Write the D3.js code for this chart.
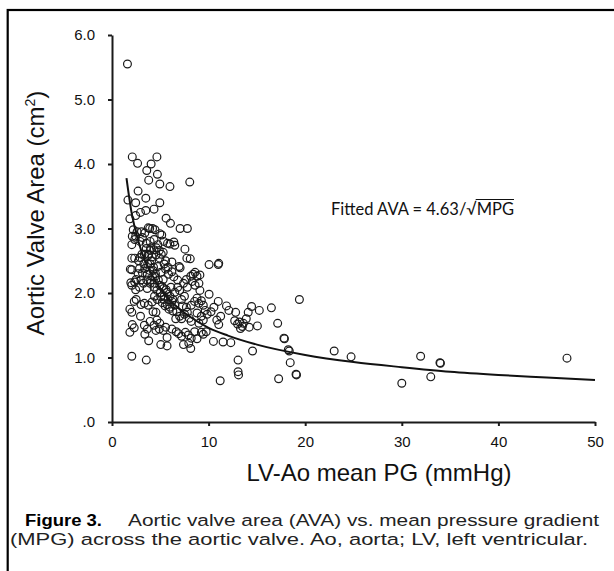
<!DOCTYPE html>
<html>
<head>
<meta charset="utf-8">
<script src="https://cdn.jsdelivr.net/npm/d3@7"></script>
<style>
  html, body { margin: 0; padding: 0; background: #fff; }
  svg { display: block; }
  .axis path, .axis line { stroke: #1a1a1a; stroke-width: 2; }
  .axis text { font-family: "Liberation Sans", Arial, sans-serif; font-size: 15px; fill: #111; }
</style>
</head>
<body>
<svg id="chart"></svg>
<script>
// Tick values and labels.
const xTicks = [0, 10, 20, 30, 40, 50];
const yTicks = [0, 1, 2, 3, 4, 5, 6];
const yTickLabels = ['.0', '1.0', '2.0', '3.0', '4.0', '5.0', '6.0'];

// Patients: mean pressure gradient (mmHg) and aortic valve area (cm2).
const mpg = [
    1.6, 2.1, 2.65, 3.6, 4.05, 4.65, 4.7, 3.8, 4.95, 6.0, 8.05,
    2.7, 1.65, 2.45, 3.5, 4.95, 2.95, 2.45, 1.85, 4.35, 3.5, 5.6, 6.05, 7.05, 7.8,
    2.2, 3.05, 3.9, 4.45, 5.15, 2.1, 2.6, 3.4, 3.75, 4.2, 4.95, 2.45, 3.15, 2.05, 2.35, 2.9,
    3.55, 3.95, 4.35, 4.75, 5.35, 5.75, 6.0, 6.4, 3.55, 3.95, 4.35, 4.9, 5.3, 3.35, 3.75,
    4.15, 4.55, 4.95, 2.35, 2.75, 5.55, 6.2, 7.05, 8.1, 7.55, 7.75, 6.5, 6.95, 2.05,
    10.05, 11.0, 11.05, 9.1,
    1.9, 2.05, 1.95, 2.35, 2.5, 2.85, 3.15, 3.4, 3.65, 3.95, 4.25, 4.45, 4.75, 5.05, 5.3,
    5.55, 5.85, 6.2, 2.05, 2.45, 2.85, 3.25, 3.65, 3.95, 4.35, 4.65, 4.95, 5.35, 5.7, 6.1,
    6.5, 6.8, 7.0, 7.4, 7.7, 8.15, 8.4, 8.6, 8.8, 7.8, 8.3, 8.6, 9.0, 9.1, 10.05,
    2.3, 2.5, 3.0, 3.35, 3.75, 4.15, 4.25, 4.55, 4.65, 4.95, 5.05, 5.35, 5.7, 6.0, 6.2,
    6.5, 6.7, 7.0, 7.2, 7.5, 7.8, 8.0, 8.2, 7.7, 8.2, 8.55, 8.8, 9.0, 9.25, 9.45, 9.65,
    8.8, 9.25, 9.0, 9.45, 9.85, 10.25, 10.55, 10.85, 11.05, 11.25, 11.0, 11.85, 12.1, 12.8,
    14.45, 14.1, 15.25, 16.5, 19.4, 17.15, 15.05, 14.2, 13.0, 13.3, 13.6, 13.9, 13.2, 12.7, 13.5,
    2.95, 3.35, 3.65, 3.95, 4.35, 4.55, 4.9, 5.3, 5.55, 6.2, 6.65, 6.9, 7.2, 7.6, 7.9, 8.2,
    8.55, 8.8, 9.25, 9.45, 9.75,
    1.85, 2.1, 2.3, 1.85, 2.05, 3.4, 3.8, 5.05, 5.7, 5.7, 7.4, 8.15, 7.95, 2.05, 3.55,
    10.5, 11.5, 12.3,
    17.8, 17.85, 18.25, 18.35, 18.45, 19.05, 19.1, 17.25, 13.05, 13.05, 13.1, 11.2, 14.55,
    23.0, 24.75, 31.95, 30.0, 33.0, 33.95, 34.0, 47.1,
    3.7, 3.9, 4.1, 4.3, 4.5, 4.0, 4.2, 4.4, 4.8, 5.0, 5.2, 5.4, 5.6, 5.8, 6.0, 6.3, 5.2, 5.5,
    5.9, 6.3, 3.8, 4.0, 4.6, 5.1, 5.4, 5.8, 6.4, 6.8, 7.2, 7.5, 3.6, 3.3, 3.1, 2.9, 2.7, 3.0,
    4.7, 4.4, 6.6, 7.3
];
const ava = [
    5.55, 4.11, 4.01, 3.9, 4.0, 4.11, 3.84, 3.75, 3.69, 3.65, 3.72,
    3.58, 3.44, 3.4, 3.47, 3.4, 3.25, 3.2, 3.15, 3.3, 3.28, 3.16, 3.08, 3.0, 3.0,
    2.98, 2.95, 3.0, 2.98, 2.9, 2.88, 2.95, 2.93, 3.01, 3.0, 2.92, 2.88, 2.86, 2.75, 2.83, 2.8,
    2.77, 2.8, 2.83, 2.75, 2.8, 2.77, 2.76, 2.79, 2.69, 2.66, 2.67, 2.66, 2.63, 2.6, 2.58,
    2.56, 2.59, 2.54, 2.54, 2.5, 2.5, 2.48, 2.39, 2.53, 2.68, 2.54, 2.74, 2.41, 2.54,
    2.44, 2.44, 2.46, 2.28,
    2.37, 2.36, 2.16, 2.17, 2.21, 2.38, 2.31, 2.38, 2.29, 2.45, 2.35, 2.26, 2.41, 2.32, 2.21,
    2.37, 2.29, 2.33, 2.12, 2.05, 2.09, 2.15, 2.07, 2.15, 2.09, 2.04, 2.12, 2.07, 2.01, 2.09,
    2.01, 2.09, 2.04, 2.15, 2.21, 2.26, 2.29, 2.32, 2.26, 2.09, 2.18, 2.12, 2.15, 2.04, 1.98,
    1.87, 1.9, 1.82, 1.84, 1.81, 1.86, 1.71, 1.7, 1.58, 1.53, 1.94, 1.9, 1.82, 1.78, 1.87,
    1.81, 1.71, 1.64, 1.6, 1.67, 1.7, 1.61, 1.56, 1.78, 1.81, 1.87, 1.92, 1.84, 1.88, 1.81, 1.73,
    1.69, 1.64, 1.53, 1.58, 1.67, 1.71, 1.78, 1.58, 1.51, 1.64, 1.87, 1.8, 1.73, 1.7,
    1.79, 1.7, 1.73, 1.77, 1.9, 1.53, 1.49, 1.47, 1.52, 1.45, 1.53, 1.6, 1.55, 1.57, 1.48,
    1.64, 1.5, 1.44, 1.56, 1.5, 1.42, 1.44, 1.42, 1.47, 1.44, 1.4, 1.37, 1.33, 1.39, 1.35, 1.3,
    1.4, 1.29, 1.39, 1.36, 1.4,
    1.39, 1.51, 1.46, 1.75, 1.7, 1.36, 1.26, 1.2, 1.18, 1.31, 1.2, 1.14, 1.22, 1.02, 0.96,
    1.25, 1.24, 1.23,
    1.3, 1.29, 1.12, 1.1, 0.92, 0.74, 0.73, 0.67, 0.96, 0.78, 0.73, 0.64, 1.1,
    1.1, 1.01, 1.02, 0.6, 0.7, 0.92, 0.91, 0.99,
    2.45, 2.35, 2.5, 2.4, 2.3, 2.2, 2.25, 2.15, 2.2, 2.0, 2.1, 1.95, 2.05, 1.9, 1.95, 1.9, 1.85, 1.8,
    1.75, 1.72, 2.6, 2.7, 2.7, 2.6, 2.45, 2.4, 2.25, 2.2, 1.9, 1.95, 2.2, 2.45, 2.6, 2.55, 2.3, 2.2,
    1.9, 1.95, 1.6, 1.8
];

// Fitted curve AVA = 4.63 / sqrt(MPG).
const fitMpg = [1.5, 2, 2.5, 3, 3.5, 4, 5, 6, 7, 8, 10, 12, 15, 20, 25, 30, 35, 40, 45, 50];
const fitAva = [3.78, 3.27, 2.93, 2.67, 2.47, 2.32, 2.07, 1.89, 1.75, 1.64, 1.46, 1.34, 1.2, 1.04, 0.93, 0.85, 0.78, 0.73, 0.69, 0.65];

const width = 614;
const height = 571;
const marginLeft = 112, marginRight = 19, marginTop = 35, marginBottom = 149;
const sans = '"Liberation Sans", Arial, sans-serif';

const svg = d3.select('#chart').attr('width', width).attr('height', height);

// Outer frame (only left and top edges fall inside the picture).
svg.append('rect')
    .attr('x', 7.7).attr('y', 10)
    .attr('width', 700).attr('height', 700)
    .attr('fill', 'none').attr('stroke', '#000').attr('stroke-width', 2.2);

const x = d3.scaleLinear().domain([0, 50]).range([marginLeft, width - marginRight]);
const y = d3.scaleLinear().domain([0, 6]).range([height - marginBottom, marginTop]);

// Y axis.
svg.append('g')
    .attr('class', 'axis')
    .attr('transform', `translate(${marginLeft},0)`)
    .call(d3.axisLeft(y).tickValues(yTicks).tickFormat((d, i) => yTickLabels[i]).tickSize(4).tickSizeOuter(0).tickPadding(13));

// X axis.
svg.append('g')
    .attr('class', 'axis')
    .attr('transform', `translate(0,${height - marginBottom})`)
    .call(d3.axisBottom(x).tickValues(xTicks).tickFormat(d3.format('d')).tickSize(4).tickSizeOuter(0).tickPadding(10));

// Axis titles.
svg.append('text')
    .attr('x', 379).attr('y', 481)
    .attr('text-anchor', 'middle')
    .style('font-family', sans)
    .style('font-size', '24px').style('fill', '#111')
    .text('LV-Ao mean PG (mmHg)');

const yTitle = svg.append('text')
    .attr('transform', 'translate(44,213) rotate(-90)')
    .attr('text-anchor', 'middle')
    .style('font-family', sans)
    .style('font-size', '24px').style('fill', '#111');
yTitle.append('tspan').text('Aortic Valve Area (cm');
yTitle.append('tspan').attr('dy', -9).style('font-size', '14px').text('2');
yTitle.append('tspan').attr('dy', 9).text(')');

// Fitted curve.
const line = d3.line()
    .x((d, i) => x(fitMpg[i]))
    .y((d, i) => y(fitAva[i]))
    .curve(d3.curveMonotoneX);

svg.append('path')
    .datum(fitMpg)
    .attr('d', line)
    .attr('fill', 'none')
    .attr('stroke', '#111')
    .attr('stroke-width', 2);

// Points.
svg.append('g')
    .selectAll('circle')
    .data(mpg)
    .join('circle')
    .attr('cx', d => x(d))
    .attr('cy', (d, i) => y(ava[i]))
    .attr('r', 3.9)
    .attr('fill', 'none')
    .attr('stroke', '#1a1a1a')
    .attr('stroke-width', 1.2);

// Fit equation, with a bar over the radicand.
const eq = svg.append('text')
    .attr('x', 331).attr('y', 215)
    .style('font-family', 'Lato, "Open Sans", sans-serif')
    .style('font-size', '16.5px').style('fill', '#111');
eq.append('tspan').text('Fitted AVA = 4.63/\u221A');
eq.append('tspan').text('MPG');
{
    const node = eq.node();
    const n = node.getNumberOfChars();
    const start = node.getStartPositionOfChar(n - 3).x;
    const end = node.getEndPositionOfChar(n - 1).x;
    svg.append('line')
        .attr('x1', start - 1).attr('x2', end)
        .attr('y1', 199.5).attr('y2', 199.5)
        .attr('stroke', '#111').attr('stroke-width', 1.2);
}

// Caption.
svg.append('text')
    .attr('x', 25).attr('y', 526)
    .attr('textLength', 77).attr('lengthAdjust', 'spacingAndGlyphs')
    .style('font-family', '"Liberation Sans Narrow", "Liberation Sans", sans-serif')
    .style('font-size', '16.8px').style('font-weight', 'bold').style('fill', '#000')
    .text('Figure 3.');

svg.append('text')
    .attr('x', 128).attr('y', 526)
    .attr('textLength', 471).attr('lengthAdjust', 'spacingAndGlyphs')
    .style('font-family', sans)
    .style('font-size', '16.8px').style('fill', '#222')
    .text('Aortic valve area (AVA) vs. mean pressure gradient');

svg.append('text')
    .attr('x', 10).attr('y', 545)
    .attr('textLength', 578).attr('lengthAdjust', 'spacingAndGlyphs')
    .style('font-family', sans)
    .style('font-size', '16.8px').style('fill', '#222')
    .text('(MPG) across the aortic valve. Ao, aorta; LV, left ventricular.');
</script>
</body>
</html>
